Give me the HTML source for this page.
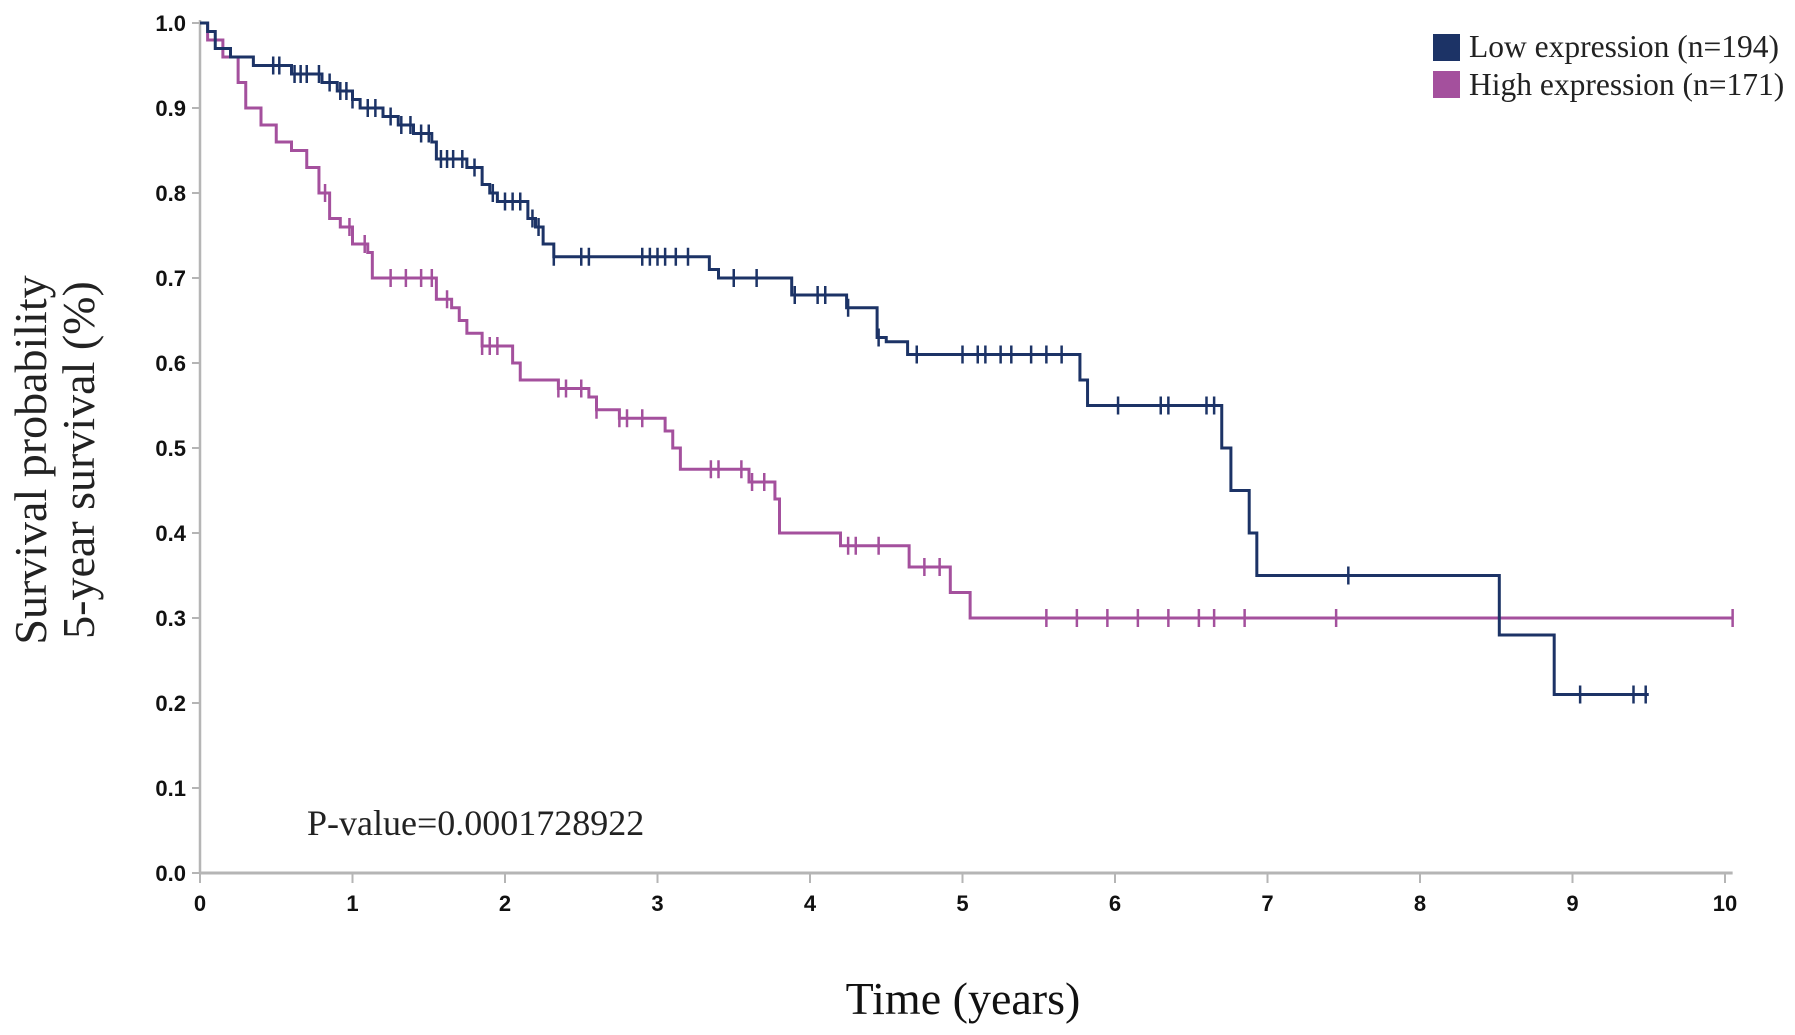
<!DOCTYPE html>
<html><head><meta charset="utf-8"><style>
html,body{margin:0;padding:0;background:#fff;}
svg{display:block;}
</style></head><body>
<svg id="chart" width="1795" height="1035" viewBox="0 0 1795 1035">
<g id="axes"></g>
<g id="series"></g>
<g>
<rect x="1433" y="34" width="27" height="27" fill="#1c3366"/>
<text x="1469" y="57" font-family="Liberation Serif, serif" font-size="31.5" fill="#222">Low expression (n=194)</text>
<rect x="1433" y="71" width="27" height="27" fill="#a4509d"/>
<text x="1469" y="95" font-family="Liberation Serif, serif" font-size="31.5" fill="#222">High expression (n=171)</text>
</g>
<text x="307" y="835" font-family="Liberation Serif, serif" font-size="36" fill="#222">P-value=0.0001728922</text>
<text x="963" y="1014" text-anchor="middle" font-family="Liberation Serif, serif" font-size="46" fill="#111">Time (years)</text>
<g transform="translate(0,460) rotate(-90)">
<text x="0" y="46" text-anchor="middle" font-family="Liberation Serif, serif" font-size="46" fill="#222">Survival probability</text>
<text x="0" y="94" text-anchor="middle" font-family="Liberation Serif, serif" font-size="46" fill="#222">5-year survival (%)</text>
</g>
</svg>
<script>
const xTicks=[0,1,2,3,4,5,6,7,8,9,10];
const yTicks=[0,0.1,0.2,0.3,0.4,0.5,0.6,0.7,0.8,0.9,1.0];
const yTickLabels=["0.0","0.1","0.2","0.3","0.4","0.5","0.6","0.7","0.8","0.9","1.0"];
const lowTimes=[0,0.05,0.1,0.2,0.35,0.6,0.8,0.9,1.0,1.05,1.2,1.3,1.4,1.52,1.55,1.75,1.85,1.9,1.95,2.15,2.2,2.25,2.32,3.34,3.4,3.88,4.24,4.44,4.5,4.64,5.77,5.82,6.7,6.76,6.88,6.93,8.52,8.88];
const lowSurv=[1.0,0.99,0.97,0.96,0.95,0.94,0.93,0.92,0.91,0.90,0.89,0.88,0.87,0.86,0.84,0.83,0.81,0.80,0.79,0.77,0.76,0.74,0.725,0.71,0.70,0.68,0.665,0.63,0.625,0.61,0.58,0.55,0.50,0.45,0.40,0.35,0.28,0.21];
const lowEnd=9.5;
const lowCensor=[0.48,0.52,0.62,0.66,0.7,0.78,0.85,0.92,0.96,1.0,1.1,1.15,1.25,1.32,1.38,1.45,1.5,1.58,1.62,1.66,1.72,1.8,1.92,2.0,2.05,2.1,2.18,2.22,2.32,2.5,2.55,2.9,2.95,3.0,3.05,3.12,3.2,3.5,3.65,3.9,4.05,4.1,4.25,4.45,4.7,5.0,5.1,5.15,5.25,5.32,5.45,5.55,5.65,6.02,6.3,6.35,6.6,6.65,7.53,9.05,9.4,9.48];
const highTimes=[0,0.05,0.15,0.25,0.3,0.4,0.5,0.6,0.7,0.78,0.85,0.92,1.0,1.1,1.13,1.55,1.65,1.7,1.75,1.85,2.05,2.1,2.35,2.55,2.6,2.75,3.05,3.1,3.15,3.6,3.77,3.8,4.2,4.65,4.92,5.05];
const highSurv=[1.0,0.98,0.96,0.93,0.90,0.88,0.86,0.85,0.83,0.80,0.77,0.76,0.74,0.73,0.70,0.675,0.665,0.65,0.635,0.62,0.60,0.58,0.57,0.56,0.545,0.535,0.52,0.50,0.475,0.46,0.44,0.40,0.385,0.36,0.33,0.30];
const highEnd=10.05;
const highCensor=[0.82,0.98,1.08,1.25,1.35,1.45,1.52,1.62,1.85,1.9,1.95,2.35,2.4,2.5,2.6,2.75,2.8,2.9,3.35,3.4,3.55,3.62,3.7,4.25,4.3,4.45,4.75,4.85,5.55,5.75,5.95,6.15,6.35,6.55,6.65,6.85,7.45,10.05];
const X=t=>200+t*152.5;
const Y=s=>873-s*850;
const NS="http://www.w3.org/2000/svg";
function mk(tag,attrs,parent){const e=document.createElementNS(NS,tag);for(const k in attrs)e.setAttribute(k,attrs[k]);parent.appendChild(e);return e;}
const axes=document.getElementById('axes');
const ya=mk('line',{x1:X(0),y1:Y(1.0)-3,x2:X(0),y2:Y(0),stroke:'#b5b5b5','stroke-width':2.5},axes);


const xa=mk('line',{x1:X(0),y1:Y(0),x2:X(10.05),y2:Y(0),stroke:'#b5b5b5','stroke-width':3},axes);


yTicks.forEach((v,i)=>{
  mk('line',{x1:X(0)-8,y1:Y(v),x2:X(0),y2:Y(v),stroke:'#b5b5b5','stroke-width':2},axes);
  const t=mk('text',{x:X(0)-14,y:Y(v)+8,'text-anchor':'end','font-family':'Liberation Sans, sans-serif','font-size':22,'font-weight':'bold',fill:'#111'},axes);
  t.textContent=yTickLabels[i];
  
  
});
xTicks.forEach(v=>{
  mk('line',{x1:X(v),y1:Y(0),x2:X(v),y2:Y(0)+10,stroke:'#b5b5b5','stroke-width':2},axes);
  const t=mk('text',{x:X(v),y:Y(0)+38,'text-anchor':'middle','font-family':'Liberation Sans, sans-serif','font-size':22,'font-weight':'bold',fill:'#111'},axes);
  t.textContent=String(v);
  
  
});
const series=document.getElementById('series');
function stepVal(times,surv,t){let s=surv[0];for(let i=0;i<times.length;i++){if(times[i]<=t)s=surv[i];}return s;}
function drawCurve(times,surv,end,censor,color,name){
  let d='M'+X(times[0])+','+Y(surv[0]);
  for(let i=1;i<times.length;i++){d+=' H'+X(times[i])+' V'+Y(surv[i]);}
  d+=' H'+X(end);
  const p=mk('path',{d:d,fill:'none',stroke:color,'stroke-width':3},series);
  
  
  censor.forEach(c=>{
    const s=stepVal(times,surv,c);
    const m=mk('line',{x1:X(c),y1:Y(s)-9,x2:X(c),y2:Y(s)+9,stroke:color,'stroke-width':2.5},series);
    
    
  });
}
drawCurve(highTimes,highSurv,highEnd,highCensor,'#a4509d','high-expression');
drawCurve(lowTimes,lowSurv,lowEnd,lowCensor,'#1c3366','low-expression');
</script>
</body></html>
